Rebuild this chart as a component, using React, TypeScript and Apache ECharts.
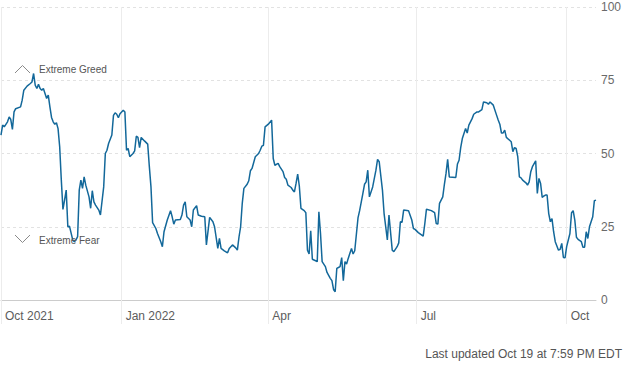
import React, { useEffect, useRef } from "react";
import * as echarts from "echarts";

// Day offsets from 2021-10-19 and the index values
const pointDays = [
  0, 1, 2, 4, 5, 6, 7, 8, 9, 12, 13, 14, 16, 18, 19, 20, 21, 22, 23, 24, 25, 26, 27, 28, 29, 30,
  31, 32, 33, 34, 35, 36, 37, 38, 39, 40, 41, 42, 44, 45, 46, 47, 48, 49, 50, 51, 52, 54, 55, 56,
  57, 58, 60, 61, 63, 64, 65, 66, 68, 69, 70, 71, 72, 73, 75, 76, 77, 78, 79, 81, 82, 83, 84, 85,
  86, 88, 90, 91, 92, 93, 95, 96, 98, 99, 100, 102, 104, 105, 106, 107, 110, 111, 112, 113, 114,
  116, 117, 118, 120, 121, 123, 125, 126, 128, 130, 131, 133, 134, 135, 137, 139, 140, 142, 144,
  145, 146, 147, 148, 149, 151, 152, 153, 154, 156, 158, 159, 160, 161, 162, 164, 166, 167, 168,
  170, 171, 173, 174, 175, 176, 178, 179, 180, 181, 182, 183, 184, 186, 187, 188, 189, 190, 191,
  193, 194, 195, 196, 197, 199, 200, 202, 203, 204, 205, 206, 207, 208, 209, 210, 211, 212, 213,
  215, 216, 217, 219, 220, 222, 223, 224, 225, 226, 228, 230, 231, 232, 234, 235, 236, 237, 238,
  240, 241, 243, 244, 245, 246, 247, 250, 252, 253, 254, 256, 259, 260, 261, 264, 266, 267, 268,
  269, 270, 271, 272, 273, 274, 275, 279, 280, 281, 282, 283, 285, 286, 287, 289, 290, 292, 293,
  295, 296, 298, 299, 300, 302, 304, 305, 306, 307, 308, 309, 310, 312, 313, 314, 315, 316, 317,
  318, 319, 320, 322, 323, 324, 325, 326, 328, 329, 330, 331, 332, 333, 334, 335, 336, 337, 338,
  339, 340, 342, 343, 344, 345, 346, 347, 349, 350, 351, 352, 353, 354, 356, 357, 358, 359, 360,
  361, 363, 364, 365,
];

const pointValues = [
  56.3, 59.7, 59.1, 60.8, 62.5, 61.6, 58.2, 64.2, 65.3, 65.9, 68.2, 71.6, 73, 73.9, 74.4, 77.3, 73.3,
  72.2, 73.6, 72.2, 71.6, 72.2, 70.5, 68.8, 69.9, 65.9,
  62.3, 60.8, 60, 60.5, 58.5, 52.3, 40.9, 30.9, 34.1, 37.5, 25, 25.2, 20.5, 19.9, 20.5, 21.6, 37.5,
  40.9, 38.1, 42, 39.2, 35.2, 31.3, 37.3,
  33.5, 32.4, 30.7, 29, 38.6, 50, 51.1, 53.4, 56.3, 63, 63.9, 63.4, 62.2, 63.6, 64.8, 64.2, 51.1,
  51.7, 48.9, 50, 50.9, 55.9, 55.5, 52,
  55.5, 54.3, 53.2, 45.5, 38.6, 26.4, 24.4, 22.7, 19.9, 18.2, 23.3, 27.3, 30.5, 28.4, 25.9, 27.3,
  27.5, 29, 32.4, 33.5, 28.4,
  27.3, 25, 30.7, 32.2, 29, 28.6, 28.4, 18.8, 28.2, 26.7, 25, 17.6, 21, 17.6, 16.8, 16.1, 17.6,
  18.8, 17.8,
  17, 21.5, 25, 33, 38.1, 39.5, 40.7, 44.1, 44.9, 48.9, 50, 51.1, 52.5, 52.8, 59.1, 60, 61.4, 48.3,
  46,
  46.6, 45.5, 43.8, 41.8, 41.2, 39.2, 38.4, 37.5, 36.9, 39.8, 43, 38.9, 31.3, 30.5, 29.8, 17, 15.7,
  23.6, 13.9,
  13.4, 13.1, 30.1, 22.7, 13.1, 11.4, 9.4, 7.4, 6.6, 3.6, 2.8, 10.8, 11.1, 11.4, 14.5, 6.6, 13.1,
  12.3, 14.2,
  17.6, 15.7, 16.8, 28, 30.5, 36.4, 39.5, 40.3, 44.3, 35.2, 38.6, 44.3, 48, 47.2, 37.5, 29.5, 25,
  20.5, 29,
  17, 16.5, 18.2, 19.5, 26.7, 26.5, 30.7, 30.5, 27.3, 24.4, 24.1, 23, 21.8, 26.1, 31, 30.5, 29.8,
  26.1, 25.9,
  33, 34.1, 35.2, 39.5, 43.2, 48, 42, 41.8, 46.4, 47.7, 52, 55.1, 58.5, 57, 59.7, 61.9, 63.4, 64.2,
  64.2,
  65, 67.6, 67.3, 66.8, 67.6, 66.5, 63.1, 61.4, 60, 57, 57, 58, 55.5, 54.5, 54, 50.6, 52, 51.7,
  48.9,
  42, 41.7, 40.9, 40, 39.2, 40.3, 43.8, 45.5, 47.5, 36.4, 41.5, 39.8, 35, 35.5, 35.8, 35.8, 29.5,
  26.7, 27.8,
  23.3, 19.9, 17, 17.3, 19.3, 14.5, 14.4, 18.2, 22.7, 29.8, 30.5, 27.3, 21.4, 20.7, 19.9, 18, 18,
  23.3, 21,
  25, 28.4, 33.9, 34.1,
];

const startDate = "2021-10-19";
const dayCount = 366;
const tickDays = [0, 74, 164, 255, 347];
const tickLabels = ["Oct 2021", "Jan 2022", "Apr", "Jul", "Oct"];
const yTicks = [0, 25, 50, 75, 100];
const footerText = "Last updated Oct 19 at 7:59 PM EDT";

function buildCategories(): string[] {
  const out: string[] = [];
  const base = new Date(startDate + "T00:00:00Z").getTime();
  for (let i = 0; i < dayCount; i++) {
    out.push(new Date(base + i * 86400000).toISOString().slice(0, 10));
  }
  return out;
}

const FONT = "'Liberation Sans', Arial, sans-serif";

export default function App() {
  const ref = useRef<HTMLDivElement>(null);
  useEffect(() => {
    document.body.style.margin = "0";
    if (!ref.current) return;
    const chart = echarts.init(ref.current, null, { renderer: "svg" });
    const categories = buildCategories();
    const seriesData: (number | null)[] = categories.map(() => null);
    pointDays.forEach((d, i) => {
      seriesData[d] = pointValues[i];
    });
    const isTick = (idx: number) => tickDays.indexOf(idx) >= 0;

    chart.setOption({
      animation: false,
      textStyle: { fontFamily: FONT },
      grid: { left: 1, right: 33, top: 7, bottom: 68, containLabel: false, outerBoundsMode: "none" },
      xAxis: {
        type: "category",
        data: categories,
        boundaryGap: false,
        axisLine: { show: true, lineStyle: { color: "#cccccc", width: 1 } },
        axisTick: {
          show: true,
          length: 24,
          interval: (idx: number) => isTick(idx),
          lineStyle: { color: "#ececec", width: 1 },
        },
        axisLabel: {
          interval: (idx: number) => isTick(idx),
          formatter: (_v: string, idx: number) => {
            const k = tickDays.indexOf(idx);
            return k >= 0 ? tickLabels[k] : "";
          },
          align: "left",
          margin: 10,
          padding: [0, 0, 0, 4],
          color: "#5c5c5c",
          fontSize: 12,
          fontFamily: FONT,
        },
        splitLine: {
          show: true,
          interval: (idx: number) => isTick(idx),
          lineStyle: { color: "#ececec", width: 1 },
        },
      },
      yAxis: {
        type: "value",
        position: "right",
        min: yTicks[0],
        max: yTicks[yTicks.length - 1],
        interval: 25,
        axisLine: { show: false },
        axisTick: { show: false },
        axisLabel: { margin: 5, color: "#6a6a6a", fontSize: 12, fontFamily: FONT },
        splitLine: { show: true, lineStyle: { color: "#e2e2e2", type: [3, 3], width: 1 } },
      },
      series: [
        {
          type: "line",
          data: seriesData,
          connectNulls: true,
          showSymbol: false,
          symbol: "none",
          lineStyle: { color: "#13689a", width: 1.5 },
          itemStyle: { color: "#13689a" },
        },
      ],
      graphic: [
        {
          type: "polyline",
          shape: { points: [[15, 73], [22.5, 65.5], [30, 73]] },
          style: { stroke: "#8a8a8a", lineWidth: 1, fill: "none" },
          z: 10,
        },
        {
          type: "text",
          style: {
            text: "Extreme Greed",
            x: 39,
            y: 69.5,
            fill: "#555555",
            fontSize: 10,
            fontFamily: FONT,
            textAlign: "left",
            textVerticalAlign: "middle",
          },
          z: 10,
        },
        {
          type: "polyline",
          shape: { points: [[15, 235], [22.5, 242.5], [30, 235]] },
          style: { stroke: "#8a8a8a", lineWidth: 1, fill: "none" },
          z: 10,
        },
        {
          type: "text",
          style: {
            text: "Extreme Fear",
            x: 39,
            y: 240.5,
            fill: "#555555",
            fontSize: 10,
            fontFamily: FONT,
            textAlign: "left",
            textVerticalAlign: "middle",
          },
          z: 10,
        },
        {
          type: "text",
          style: {
            text: footerText,
            x: 622,
            y: 354,
            fill: "#555555",
            fontSize: 12,
            fontFamily: FONT,
            textAlign: "right",
            textVerticalAlign: "middle",
          },
        },
      ],
    });
    return () => chart.dispose();
  }, []);
  return <div ref={ref} style={{ width: 629, height: 368 }} />;
}
